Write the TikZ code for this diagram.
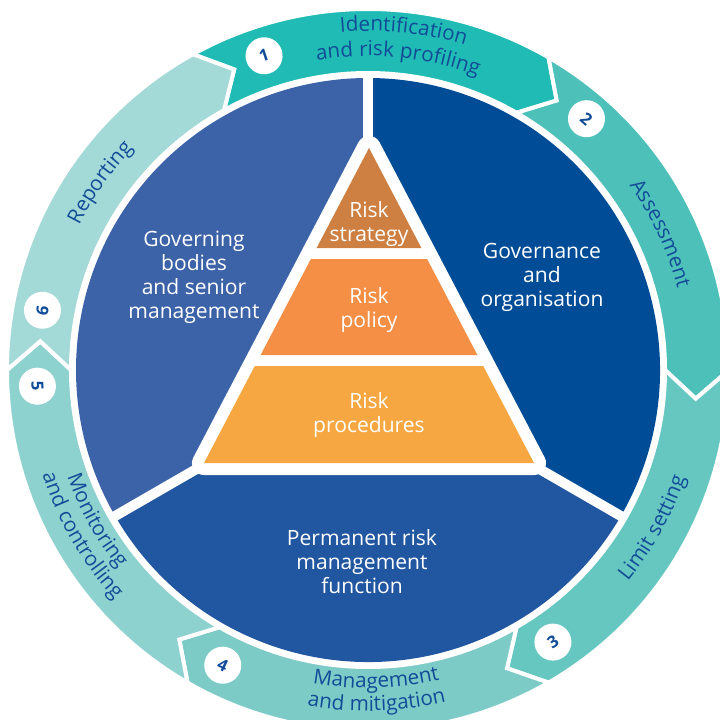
\documentclass[tikz,border=0pt]{standalone}
\usepackage{fontspec}
\setmainfont{Open Sans}
\newfontfamily\ringfamily{Open Sans}[LetterSpace=2.0]
\usepackage{tikz}
\usetikzlibrary{decorations.text}
\definecolor{segone}{RGB}{31,187,180}
\definecolor{segtwo}{RGB}{77,193,185}
\definecolor{segthree}{RGB}{102,199,193}
\definecolor{segfour}{RGB}{125,203,199}
\definecolor{segfive}{RGB}{142,210,208}
\definecolor{segsix}{RGB}{163,217,215}
\definecolor{govleft}{RGB}{60,99,168}
\definecolor{govright}{RGB}{0,76,151}
\definecolor{govbottom}{RGB}{33,86,160}
\definecolor{riskstrat}{RGB}{205,128,65}
\definecolor{riskpol}{RGB}{245,143,69}
\definecolor{riskproc}{RGB}{247,167,65}
\definecolor{ringblue}{RGB}{18,76,152}
\newcommand{\ringfont}{\ringfamily\fontsize{15.5}{18}\selectfont}
\tikzset{every picture/.style={line width=0.75pt}}
\tikzset{
  ringseg/.style={draw=white, line width=3pt, line join=miter},
  disktext/.style={text=white, align=center, font=\fontsize{15.8}{18}\selectfont},
  numdisc/.style={circle, fill=white, minimum size=27.75pt, inner sep=0pt, text=ringblue, font=\fontsize{12.5}{14}\selectfont\bfseries},
  ringlabel/.style={decorate, decoration={text along path, text={|\ringfont|#1}, text align=center, text color=ringblue}},
}

\begin{document}
\begin{tikzpicture}[x=0.75pt,y=0.75pt,yscale=-1,xscale=1]
\useasboundingbox (0,0) rectangle (719,720);
\begin{scope}[shift={(368,370)},yscale=-1]
%Shape: Block Arc [id:seg1] 
\filldraw[ringseg, fill=segone] (119:361) arc[start angle=119, end angle=60, radius=361] -- (55:329) -- (60:297) arc[start angle=60, end angle=119, radius=297] -- (114:329) -- cycle ;
%Shape: Block Arc [id:seg2] 
\filldraw[ringseg, fill=segtwo] (60:361) arc[start angle=60, end angle=0, radius=361] -- (-5:329) -- (0:297) arc[start angle=0, end angle=60, radius=297] -- (55:329) -- cycle ;
%Shape: Block Arc [id:seg3] 
\filldraw[ringseg, fill=segthree] (0:361) arc[start angle=0, end angle=-60, radius=361] -- (-65:329) -- (-60:297) arc[start angle=-60, end angle=0, radius=297] -- (-5:329) -- cycle ;
%Shape: Block Arc [id:seg4] 
\filldraw[ringseg, fill=segfour] (-60:361) arc[start angle=-60, end angle=-120, radius=361] -- (-125:329) -- (-120:297) arc[start angle=-120, end angle=-60, radius=297] -- (-65:329) -- cycle ;
%Shape: Block Arc [id:seg5] 
\filldraw[ringseg, fill=segfive] (-120:361) arc[start angle=-120, end angle=-180, radius=361] -- (175:329) -- (180:297) arc[start angle=-180, end angle=-120, radius=297] -- (-125:329) -- cycle ;
%Shape: Block Arc [id:seg6] 
\filldraw[ringseg, fill=segsix] (180:361) arc[start angle=180, end angle=119, radius=361] -- (114:329) -- (119:297) arc[start angle=119, end angle=180, radius=297] -- (175:329) -- cycle ;
%Shape: Sectors [id:disk] 
\fill[govleft] (0,0) -- (90:292) arc[start angle=90, end angle=210, radius=292] -- cycle ;
\fill[govbottom] (0,0) -- (210:292) arc[start angle=210, end angle=330, radius=292] -- cycle ;
\fill[govright] (0,0) -- (-30:292) arc[start angle=-30, end angle=90, radius=292] -- cycle ;
%Straight Lines [id:cuts] 
\draw[white, line width=7.5pt] (0,0) -- (90:296) ;
\draw[white, line width=7.5pt] (0,0) -- (210:296) ;
\draw[white, line width=7.5pt] (0,0) -- (330:296) ;
%Curved text [id:ringtext] 
\path[ringlabel={Identification}] (114:339) arc[start angle=114, end angle=54, radius=339] ;
\path[ringlabel={and risk profiling}] (115:314) arc[start angle=115, end angle=54, radius=314] ;
\path[ringlabel={Assessment}] (55:320) arc[start angle=55, end angle=-5, radius=320] ;
\path[ringlabel={Limit setting}] (-58:335) arc[start angle=-58, end angle=0, radius=335] ;
\path[ringlabel={Management}] (-118:318) arc[start angle=-118, end angle=-59, radius=318] ;
\path[ringlabel={and mitigation}] (-118:341) arc[start angle=-118, end angle=-59, radius=341] ;
\path[ringlabel={Monitoring}] (-181:319) arc[start angle=-181, end angle=-121, radius=319] ;
\path[ringlabel={and controlling}] (-180:342) arc[start angle=-180, end angle=-120, radius=342] ;
\path[ringlabel={Reporting}] (175:323) arc[start angle=175, end angle=115, radius=323] ;
%Number discs [id:nums] 
\node[numdisc, rotate=18.3] (num1) at (108.3:331) {1};
\node[numdisc, rotate=-41] (num2) at (49:333) {2};
\node[numdisc, rotate=34.2] (num3) at (-55.8:329) {3};
\node[numdisc, rotate=-26.2] (num4) at (-116.2:329) {4};
\node[numdisc, rotate=-87.2] (num5) at (-177.2:331) {5};
\node[numdisc, rotate=79.6] (num6) at (169.6:331) {6};
\end{scope}
%Shape: Triangle [id:pyramid] 
\draw[white, fill=white, line width=18pt, line join=round] (369,148) -- (204,463) -- (534,463) -- cycle ;
%Shape: Triangle [id:strategy] 
\fill[riskstrat] (369,148) -- (316.6,248) -- (421.4,248) -- cycle ;
%Shape: Trapezoid [id:policy] 
\fill[riskpol] (310.9,259) -- (427.1,259) -- (477.4,355) -- (260.6,355) -- cycle ;
%Shape: Trapezoid [id:procedures] 
\fill[riskproc] (254.8,366) -- (483.2,366) -- (534,463) -- (204,463) -- cycle ;
% Text Node
\node[disktext] (strategytxt) at (369,224) {Risk\\strategy};
\node[disktext] (policytxt) at (369,310) {Risk\\policy};
\node[disktext] (procedurestxt) at (369,415) {Risk\\procedures};
\node[disktext] (bodiestxt) at (194,277) {Governing\\bodies\\and senior\\management};
\node[disktext] (organisationtxt) at (542,277) {Governance\\and\\organisation};
\node[disktext] (functiontxt) at (362,562) {Permanent risk\\management\\function};
\end{tikzpicture}
\end{document}
